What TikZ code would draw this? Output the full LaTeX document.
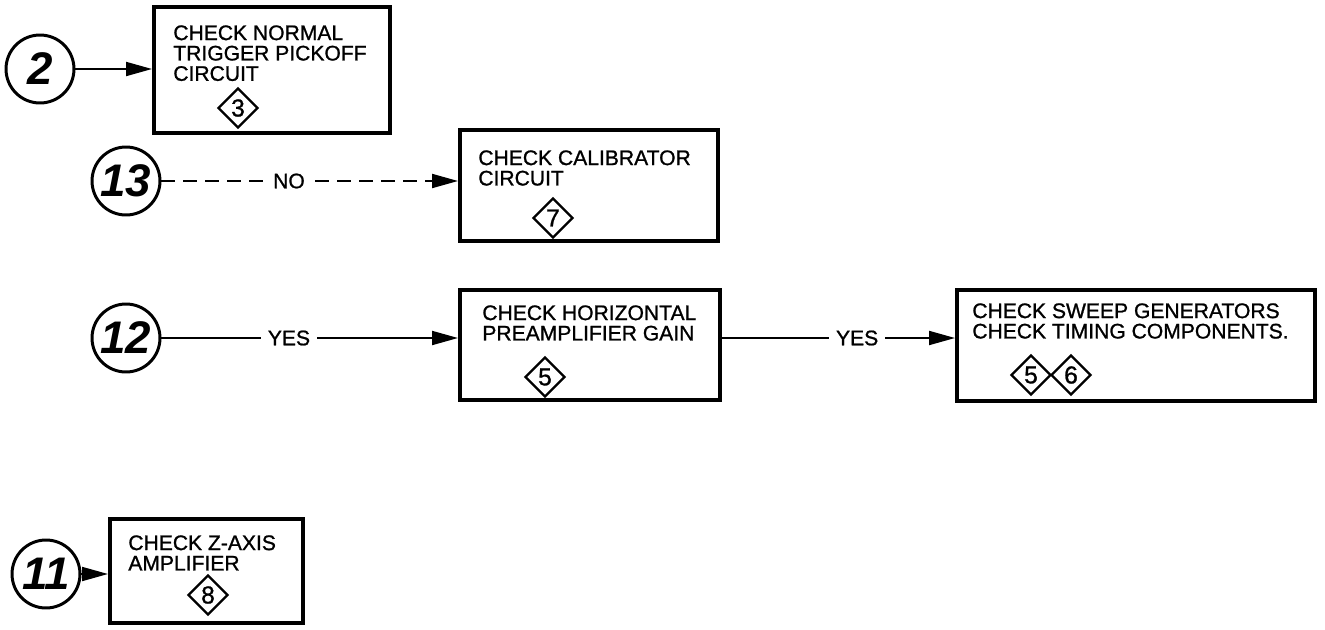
\documentclass[tikz,border=0pt]{standalone}
\usepackage{fontspec}
\setmainfont{Liberation Sans}
\newfontfamily\boxfont{Liberation Sans}[FakeBold=1.0]
\usetikzlibrary{positioning, calc, arrows.meta, shapes.geometric}
\tikzset{
    stepbox/.style={rectangle, draw=black, line width=2.3pt, inner sep=0pt},
    steptext/.style={anchor=north west, inner sep=0pt, align=left, font=\boxfont\fontsize{12}{11.6}\selectfont},
    refmark/.style={diamond, draw=black, line width=1.3pt, minimum size=0.8cm, inner sep=0pt, font=\boxfont\fontsize{14}{14}\selectfont},
    entry/.style={circle, draw=black, line width=1.7pt, minimum size=1.36cm, inner sep=0pt, font=\fontsize{26}{26}\selectfont\bfseries\itshape},
    flow/.style={-{Triangle[length=0.52cm, width=0.28cm]}, line width=1.1pt},
    lbl/.style={fill=white, inner xsep=4pt, inner ysep=1pt, font=\boxfont\fontsize{12}{12}\selectfont},
}

\begin{document}
\begin{tikzpicture}[x=0.02cm, y=-0.02cm]
    \useasboundingbox (0,0) rectangle (1325,629);

    % Entry 2
    \node[entry] (c2) at (40,69) {2};
    \node[stepbox, minimum width=4.72cm, minimum height=2.52cm] (boxA) at (272,70) {};
    \node[steptext] (txtA) at (173,25) {CHECK NORMAL\\TRIGGER PICKOFF\\CIRCUIT};
    \node[refmark] (refA) at (238,108) {3};
    \draw[flow] (c2.east) -- (c2.east -| boxA.west);

    % Entry 13
    \node[entry] (c13) at (126,181) {13};
    \node[stepbox, minimum width=5.16cm, minimum height=2.22cm] (boxB) at (589,185.5) {};
    \node[steptext] (txtB) at (478,150) {CHECK CALIBRATOR\\CIRCUIT};
    \node[refmark] (refB) at (553,218) {7};
    \draw[flow, dash pattern=on 0.28cm off 0.16cm] (c13.east) -- node[lbl, pos=0.43] (no) {NO} (c13.east -| boxB.west);

    % Entry 12
    \node[entry] (c12) at (126,338) {12};
    \node[stepbox, minimum width=5.2cm, minimum height=2.2cm] (boxC) at (590,345) {};
    \node[steptext] (txtC) at (482,305) {CHECK HORIZONTAL\\PREAMPLIFIER GAIN};
    \node[refmark] (refC) at (545,377) {5};
    \draw[flow] (c12.east) -- node[lbl, pos=0.43] (yesC) {YES} (c12.east -| boxC.west);

    \node[stepbox, minimum width=7.16cm, minimum height=2.22cm] (boxD) at (1136,345.5) {};
    \node[steptext] (txtD) at (972,303) {CHECK SWEEP GENERATORS\\CHECK TIMING COMPONENTS.};
    \node[refmark] (refD1) at (1031,375) {5};
    \node[refmark] (refD2) at (1071,375) {6};
    \draw[flow] (boxC.east |- c12) -- node[lbl, pos=0.58] (yesD) {YES} (boxD.west |- c12);

    % Entry 11
    \node[entry] (c11) at (46,574) {11};
    \node[stepbox, minimum width=3.86cm, minimum height=2.08cm] (boxE) at (206.5,571) {};
    \node[steptext] (txtE) at (128,535) {CHECK Z-AXIS\\AMPLIFIER};
    \node[refmark] (refE) at (208,595) {8};
    \draw[flow] (c11.east) -- (c11.east -| boxE.west);
\end{tikzpicture}
\end{document}
